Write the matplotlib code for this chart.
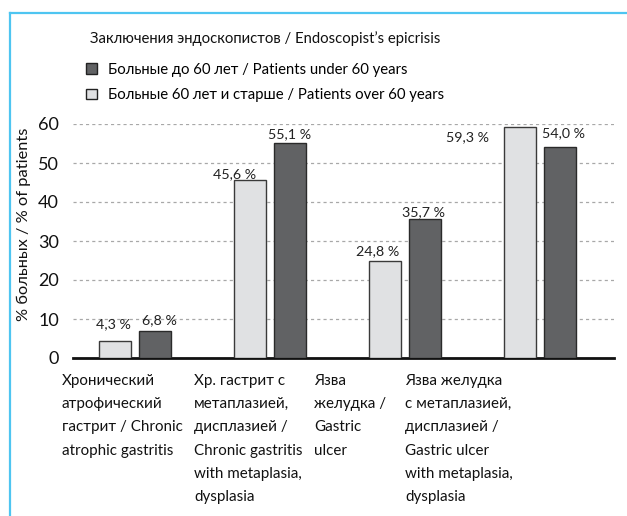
import numpy as np
import matplotlib
matplotlib.use("Agg")
import matplotlib.pyplot as plt
from matplotlib.lines import Line2D
from matplotlib.patches import Patch

plt.rcParams['font.family'] = ['Lato', 'DejaVu Sans']

categories = [
    "Хронический\nатрофический\nгастрит / Chronic\natrophic gastritis",
    "Хр. гастрит с\nметаплазией,\nдисплазией /\nChronic gastritis\nwith metaplasia,\ndysplasia",
    "Язва\nжелудка /\nGastric\nulcer",
    "Язва желудка\nс метаплазией,\nдисплазией /\nGastric ulcer\nwith metaplasia,\ndysplasia",
]
over60 = [4.3, 45.6, 24.8, 59.3]
under60 = [6.8, 55.1, 35.7, 54.0]
name_under = "Больные до 60 лет / Patients under 60 years"
name_over = "Больные 60 лет и старше / Patients over 60 years"
title = "Заключения эндоскопистов / Endoscopist’s epicrisis"
ylabel = "% больных / % of patients"

# label offsets in pixels (dx, dy) from top centre of each bar
off_over = [(-2, 17), (-15, 6), (-7, 10), (-53, -10)]
off_under = [(4, 11.5), (0, 9), (-1, 7), (4, 14)]
cat_x_px = [62, 194, 314, 405]

W, H = 627, 516
fig = plt.figure(figsize=(W / 100, H / 100), dpi=100)
ax = fig.add_axes([73 / W, (H - 358) / H, (614 - 73) / W, (358 - 124) / H])

light = "#e0e1e3"
dark = "#616264"
x = np.arange(len(categories))
bw = 0.237
sh = 0.148
ax.bar(x - sh, over60, bw, color=light, edgecolor="#3a3a3a", linewidth=1, zorder=3)
ax.bar(x + sh, under60, bw, color=dark, edgecolor="#2a2a2a", linewidth=1, zorder=3)

fs = 10.7
k = 0.72
for i in range(len(x)):
    for vals, offs, d in ((over60, off_over, -sh), (under60, off_under, sh)):
        v = vals[i]
        dx, dy = offs[i]
        ax.annotate(f"{v:.1f}".replace(".", ",") + " %", (x[i] + d, v),
                    xytext=(dx * k, dy * k), textcoords="offset points",
                    ha="center", va="center", fontsize=10.3, color="#222222",
                    annotation_clip=False)

ax.set_xlim(-0.459, 3.548)
ax.set_ylim(0, 60)
ax.set_yticks(range(0, 61, 10))
ax.set_xticks([])
ax.tick_params(axis="y", length=0, pad=10, labelsize=13, colors="#111111")
for s in ["top", "right", "left"]:
    ax.spines[s].set_visible(False)
ax.spines["bottom"].set_linewidth(2)
ax.spines["bottom"].set_color("#111111")
ax.yaxis.grid(True, linestyle=(0, (2.5, 2.5)), color="#a8a8a8", linewidth=0.9, zorder=0)
ax.set_axisbelow(True)
ax.set_ylabel(ylabel, fontsize=11.8, color="#111111")
ax.yaxis.set_label_coords(-0.078, 0.57)

for lbl, px in zip(categories, cat_x_px):
    fig.text(px / W, (H - 374) / H, lbl, ha="left", va="top", fontsize=fs + 0.2,
             linespacing=1.84, color="#111111")

fig.text(90 / W, (H - 39) / H, title, ha="left", va="center", fontsize=fs, color="#111111")
handles = [Patch(facecolor=dark, edgecolor="#222222", linewidth=1),
           Patch(facecolor=light, edgecolor="#222222", linewidth=1)]
fig.legend(handles, [name_under, name_over], loc="upper left",
           bbox_to_anchor=(86 / W, (H - 63) / H), frameon=False, fontsize=fs,
           handlelength=0.75, handleheight=0.75, handletextpad=0.7,
           labelspacing=0.75, borderpad=0, borderaxespad=0)

blue = "#4ec5f1"
fig.add_artist(Line2D([9.5 / W, 1], [(H - 12.5) / H] * 2, color=blue, linewidth=1.6))
fig.add_artist(Line2D([9.5 / W] * 2, [0, (H - 12.5) / H], color=blue, linewidth=1.6))

fig.savefig("out.png", dpi=100, facecolor="white")
